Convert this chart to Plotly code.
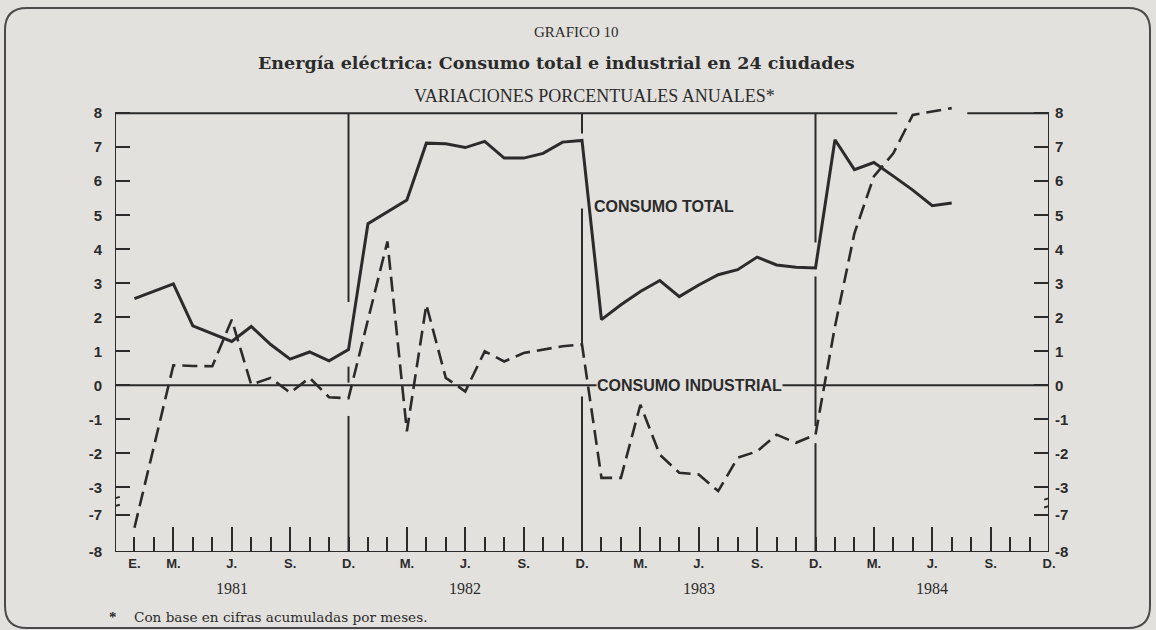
import plotly.graph_objects as go

# ---------------- data (annual % change, monthly, Jan 1981 = month 1) ----------------
months = list(range(1, 44))  # Jan 1981 .. Jul 1984
consumo_total = [2.55, 2.77, 2.98, 1.75, 1.52, 1.29, 1.73, 1.20, 0.77, 0.98, 0.72, 1.05,
                 4.75, 5.10, 5.45, 7.12, 7.10, 6.99, 7.17, 6.68, 6.68, 6.82, 7.15, 7.20,
                 1.93, 2.37, 2.76, 3.08, 2.61, 2.95, 3.25, 3.40, 3.77, 3.54, 3.47, 3.45,
                 7.22, 6.34, 6.55, 6.15, 5.74, 5.28, 5.36]
consumo_industrial = [-7.35, -1.80, 0.59, 0.57, 0.56, 1.93, 0.02, 0.22, -0.22, 0.22, -0.35, -0.38,
                      1.90, 4.23, -1.35, 2.37, 0.22, -0.18, 1.00, 0.70, 0.95, 1.05, 1.15, 1.20,
                      -2.72, -2.72, -0.57, -2.04, -2.57, -2.62, -3.11, -2.13, -1.94, -1.45, -1.69, -1.45,
                      1.73, 4.47, 6.14, 6.82, 7.95, 8.05, 8.15]

y_tick_values = [8, 7, 6, 5, 4, 3, 2, 1, 0, -1, -2, -3, -7, -8]
y_tick_text = ["8", "7", "6", "5", "4", "3", "2", "1", "0", "-1", "-2", "-3", "-7", "-8"]

x_label_months = [1, 3, 6, 9, 12, 15, 18, 21, 24, 27, 30, 33, 36, 39, 42, 45, 48]
x_label_text = ["E.", "M.", "J.", "S.", "D.", "M.", "J.", "S.", "D.",
                "M.", "J.", "S.", "D.", "M.", "J.", "S.", "D."]
tall_tick_months = [3, 6, 9, 15, 18, 21, 27, 30, 33, 39, 42, 45]
year_labels = ["1981", "1982", "1983", "1984"]
year_label_months = [6, 18, 30, 42]
year_separators = [12, 24, 36]

# ---------------- broken y-axis transform (-3 .. -7 gap) ----------------
def brk(v):
    return v if v >= -3.4 else -3.8 + (v + 7) * 1.1

INK = "#2b2b2b"
BG = "#e3e1dd"
Y_BOT, Y_TOP = brk(-8), 8.3
X_MIN, X_MAX = 0, 48

fig = go.Figure()
fig.add_trace(go.Scatter(x=months, y=[brk(v) for v in consumo_total], mode="lines",
                         line=dict(color=INK, width=3), name="Consumo total",
                         showlegend=False))
fig.add_trace(go.Scatter(x=months, y=[brk(v) for v in consumo_industrial], mode="lines",
                         line=dict(color=INK, width=2.6, dash="15px,7px"),
                         name="Consumo industrial", showlegend=False,
                         xaxis="x2", yaxis="y2"))

# pixel helpers for layout decorations
L, R, T, B, W, H = 115, 107, 103, 78, 1156, 630
PW, PH = W - L - R, H - T - B
def px(x):
    return (x - L) / PW
def py(y):
    return (H - B - y) / PH

shapes = []
# frame of the plot (top line with a gap where the series passes)
frame = [((X_MIN, Y_BOT), (X_MIN, 8)), ((X_MAX, Y_BOT), (X_MAX, 8)),
         ((X_MIN, Y_BOT), (X_MAX, Y_BOT)), ((X_MIN, 8), (40.2, 8)), ((43.8, 8), (X_MAX, 8))]
for (x0, y0), (x1, y1) in frame:
    shapes.append(dict(type="line", xref="x", yref="y", x0=x0, y0=y0, x1=x1, y1=y1,
                       line=dict(color=INK, width=2)))
# zero line
shapes.append(dict(type="line", xref="x", yref="y", x0=X_MIN, x1=X_MAX, y0=0, y1=0,
                   line=dict(color=INK, width=2)))
# year separators (interrupted where the curves cross)
sep_segments = [[(2.45, 8), (0.08, 0.55), (Y_BOT, -0.9)],
                [(7.4, 8), (1.13, 5.2), (Y_BOT, -0.33)],
                [(4.2, 8), (-1.2, 3.2), (Y_BOT, -1.7)]]
for m, segs in zip(year_separators, sep_segments):
    for a, b in segs:
        shapes.append(dict(type="line", xref="x", yref="y", x0=m, x1=m, y0=a, y1=b,
                           line=dict(color=INK, width=2)))
# axis break marks
for xc in (X_MIN, X_MAX):
    for yb in (-3.32, -3.55):
        shapes.append(dict(type="line", xref="x", yref="y", x0=xc - 0.25, x1=xc + 0.25,
                           y0=yb - 0.04, y1=yb + 0.04, line=dict(color=INK, width=2)))
# rounded outer frame
x0f, x1f, y0f, y1f, r = px(5), px(1150), py(8), py(628), 22
rx, ry = r / PW, r / PH
path = (f"M {x0f+rx},{y0f} L {x1f-rx},{y0f} Q {x1f},{y0f} {x1f},{y0f-ry} "
        f"L {x1f},{y1f+ry} Q {x1f},{y1f} {x1f-rx},{y1f} L {x0f+rx},{y1f} "
        f"Q {x0f},{y1f} {x0f},{y1f+ry} L {x0f},{y0f-ry} Q {x0f},{y0f} {x0f+rx},{y0f} Z")
shapes.append(dict(type="path", xref="paper", yref="paper", path=path,
                   line=dict(color="#4a4a4a", width=2)))

serif = "Liberation Serif"
wide_serif = "DejaVu Serif"
sans = "Liberation Sans"
def ann(text, x, y, font, xref="paper", yref="paper", xanchor="center", **kw):
    return dict(text=text, x=x, y=y, xref=xref, yref=yref, xanchor=xanchor,
                yanchor="middle", showarrow=False, font=font, **kw)

annotations = [
    ann("GRAFICO 10", px(576), py(32), dict(family=serif, size=15, color=INK)),
    ann("<b>Energía eléctrica: Consumo total e industrial en 24 ciudades</b>", px(556), py(63),
        dict(family=wide_serif, size=17.5, color=INK)),
    ann("VARIACIONES PORCENTUALES ANUALES*", px(594), py(96),
        dict(family=serif, size=18, color=INK)),
    ann("<b>CONSUMO TOTAL</b>", 24.5, 5.25, dict(family=sans, size=16, color=INK),
        xref="x", yref="y", xanchor="left"),
    ann("<b>CONSUMO INDUSTRIAL</b>", 24.7, 0, dict(family=sans, size=16, color=INK),
        xref="x", yref="y", xanchor="left", bgcolor=BG, borderpad=0),
    ann("<b>*</b>", px(113), py(617), dict(family=serif, size=15, color=INK)),
    ann("Con base en cifras acumuladas por meses.", px(132), py(617),
        dict(family=wide_serif, size=13.6, color=INK), xanchor="left"),
]
for lab, m in zip(year_labels, year_label_months):
    annotations.append(ann(lab, m, py(588), dict(family=serif, size=16, color=INK), xref="x"))

all_months = list(range(1, 48))
lab_map = dict(zip(x_label_months, x_label_text))
tickfont = dict(family=sans, size=13, color=INK, weight="bold")
yt = [brk(v) for v in y_tick_values]

fig.update_layout(
    width=W, height=H, margin=dict(l=L, r=R, t=T, b=B, autoexpand=False),
    paper_bgcolor=BG, plot_bgcolor=BG, showlegend=False,
    shapes=shapes, annotations=annotations,
    xaxis=dict(range=[X_MIN, X_MAX], tickmode="array", tickvals=all_months + [48],
               ticktext=[lab_map.get(m, "") for m in all_months + [48]],
               ticks="inside", ticklen=15, tickwidth=2, tickcolor=INK, showgrid=False,
               zeroline=False, showline=False, tickfont=tickfont, ticklabelstandoff=2,
               automargin=False),
    xaxis2=dict(range=[X_MIN, X_MAX], overlaying="x", anchor="y", side="bottom",
                tickmode="array", tickvals=tall_tick_months, showticklabels=False,
                ticks="inside", ticklen=25, tickwidth=2, tickcolor=INK, showgrid=False,
                zeroline=False, showline=False),
    yaxis=dict(range=[Y_BOT, Y_TOP], tickmode="array", tickvals=yt, ticktext=y_tick_text,
               ticks="inside", ticklen=15, tickwidth=2, tickcolor=INK, showgrid=False,
               zeroline=False, showline=False, tickfont=dict(family=sans, size=15, color=INK, weight="bold"),
               ticklabelstandoff=12, automargin=False),
    yaxis2=dict(range=[Y_BOT, Y_TOP], overlaying="y", anchor="x", side="right",
                tickmode="array", tickvals=yt, ticktext=y_tick_text,
                ticks="inside", ticklen=15, tickwidth=2, tickcolor=INK, showgrid=False,
                zeroline=False, showline=False, tickfont=dict(family=sans, size=15, color=INK, weight="bold"),
                ticklabelstandoff=5, automargin=False),
)

fig.write_html("out.html", config={"displayModeBar": False},
               post_script="document.body.style.margin='0';document.body.style.overflow='hidden';")
